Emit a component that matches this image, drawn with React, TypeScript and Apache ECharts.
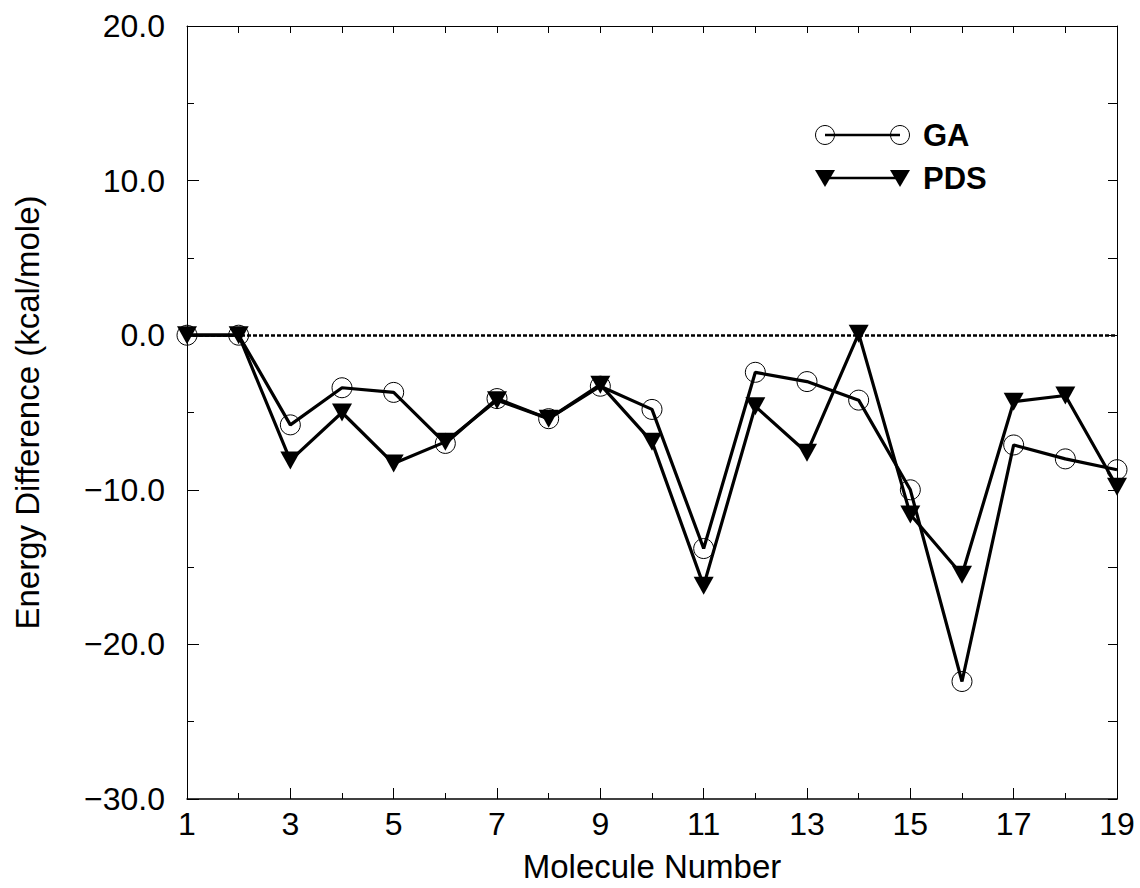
import React, { useEffect, useRef } from "react";
import * as echarts from "echarts";

const molecules = [1, 2, 3, 4, 5, 6, 7, 8, 9, 10, 11, 12, 13, 14, 15, 16, 17, 18, 19];
const gaValues = [0, 0, -5.8, -3.4, -3.7, -7.0, -4.1, -5.4, -3.3, -4.8, -13.8, -2.4, -3.0, -4.2, -10.0, -22.4, -7.1, -8.0, -8.7];
const pdsValues = [0, 0, -8.1, -5.0, -8.3, -6.9, -4.2, -5.4, -3.2, -6.9, -16.2, -4.6, -7.6, 0.1, -11.6, -15.5, -4.3, -3.9, -9.8];
const legendNames = ["GA", "PDS"];

const FONT = "'Liberation Sans', Arial, Helvetica, sans-serif";

export default function App() {
  const ref = useRef<HTMLDivElement>(null);
  useEffect(() => {
    if (!ref.current) return;
    const chart = echarts.init(ref.current, null, { renderer: "svg" });
    const gaData = molecules.map((m, i) => [m, gaValues[i]]);
    const pdsData = molecules.map((m, i) => [m, pdsValues[i]]);
    const fmtY = (v: number) => (v < 0 ? "\u2212" + Math.abs(v).toFixed(1) : v.toFixed(1));

    const legendLineX1 = 825;
    const legendLineX2 = 900;
    const legendY1 = 135;
    const legendY2 = 178;

    chart.setOption({
      animation: false,
      backgroundColor: "#ffffff",
      grid: { left: 187, right: 23, top: 26, bottom: 89, containLabel: false },
      xAxis: [
        {
          type: "value",
          min: 1,
          max: 19,
          interval: 2,
          name: "Molecule Number",
          nameLocation: "middle",
          nameGap: 51,
          nameTextStyle: { fontFamily: FONT, fontSize: 33, color: "#000" },
          axisLine: { show: true, onZero: false, lineStyle: { color: "#000", width: 1.5 } },
          axisTick: { show: true, inside: true, length: 11, lineStyle: { color: "#000", width: 1 } },
          minorTick: { show: true, splitNumber: 2, length: 6, lineStyle: { color: "#000", width: 1 } },
          axisLabel: { fontFamily: FONT, fontSize: 32, color: "#000", margin: 9 },
          splitLine: { show: false },
        },
        {
          type: "value",
          position: "top",
          min: 1,
          max: 19,
          interval: 1,
          axisLine: { show: true, onZero: false, lineStyle: { color: "#000", width: 1 } },
          axisTick: { show: true, inside: true, length: 7, lineStyle: { color: "#000", width: 1 } },
          axisLabel: { show: false },
          splitLine: { show: false },
        },
      ],
      yAxis: [
        {
          type: "value",
          min: -30,
          max: 20,
          interval: 10,
          name: "Energy Difference (kcal/mole)",
          nameLocation: "middle",
          nameGap: 143,
          nameTextStyle: { fontFamily: FONT, fontSize: 33, color: "#000" },
          axisLine: { show: true, onZero: false, lineStyle: { color: "#000", width: 1 } },
          axisTick: { show: true, inside: true, length: 12, lineStyle: { color: "#000", width: 1 } },
          minorTick: { show: true, splitNumber: 2, length: 7, lineStyle: { color: "#000", width: 1 } },
          axisLabel: { fontFamily: FONT, fontSize: 32, color: "#000", margin: 22, formatter: fmtY },
          splitLine: { show: false },
        },
        {
          type: "value",
          position: "right",
          min: -30,
          max: 20,
          interval: 5,
          axisLine: { show: true, onZero: false, lineStyle: { color: "#000", width: 1 } },
          axisTick: { show: true, inside: true, length: 9, lineStyle: { color: "#000", width: 1 } },
          axisLabel: { show: false },
          splitLine: { show: false },
        },
      ],
      series: [
        {
          name: legendNames[0],
          type: "line",
          data: gaData,
          symbol: "circle",
          symbolSize: 20,
          lineStyle: { color: "#000", width: 3.2 },
          itemStyle: { color: "rgba(0,0,0,0)", borderColor: "#000", borderWidth: 1 },
          z: 3,
          markLine: {
            silent: true,
            symbol: "none",
            label: { show: false },
            lineStyle: { color: "#000", width: 2.5, type: [4, 2] },
            data: [{ yAxis: 0 }],
            z: 1,
          },
        },
        {
          name: legendNames[1],
          type: "line",
          data: pdsData,
          symbol: "triangle",
          symbolRotate: 180,
          symbolSize: [20, 18],
          lineStyle: { color: "#000", width: 3.2 },
          itemStyle: { color: "#000", borderWidth: 0 },
          z: 4,
        },
      ],
      graphic: [
        {
          type: "line",
          shape: { x1: legendLineX1, y1: legendY1, x2: legendLineX2, y2: legendY1 },
          style: { stroke: "#000", lineWidth: 2.5 },
        },
        { type: "circle", shape: { cx: legendLineX1, cy: legendY1, r: 9.5 }, style: { fill: "none", stroke: "#000", lineWidth: 1 } },
        { type: "circle", shape: { cx: legendLineX2, cy: legendY1, r: 9.5 }, style: { fill: "none", stroke: "#000", lineWidth: 1 } },
        {
          type: "text",
          x: 923,
          y: legendY1,
          style: { text: legendNames[0], fontFamily: FONT, fontSize: 31, fontWeight: "bold", fill: "#000", verticalAlign: "middle", align: "left" },
        },
        {
          type: "line",
          shape: { x1: legendLineX1, y1: legendY2, x2: legendLineX2, y2: legendY2 },
          style: { stroke: "#000", lineWidth: 2.5 },
        },
        {
          type: "polygon",
          shape: { points: [[legendLineX1 - 10, legendY2 - 8], [legendLineX1 + 10, legendY2 - 8], [legendLineX1, legendY2 + 9]] },
          style: { fill: "#000" },
        },
        {
          type: "polygon",
          shape: { points: [[legendLineX2 - 10, legendY2 - 8], [legendLineX2 + 10, legendY2 - 8], [legendLineX2, legendY2 + 9]] },
          style: { fill: "#000" },
        },
        {
          type: "text",
          x: 923,
          y: legendY2,
          style: { text: legendNames[1], fontFamily: FONT, fontSize: 31, fontWeight: "bold", fill: "#000", verticalAlign: "middle", align: "left" },
        },
      ],
    });
    return () => chart.dispose();
  }, []);

  return (
    <div
      ref={ref}
      style={{ position: "fixed", left: 0, top: 0, width: 1140, height: 888, background: "#fff" }}
    />
  );
}
